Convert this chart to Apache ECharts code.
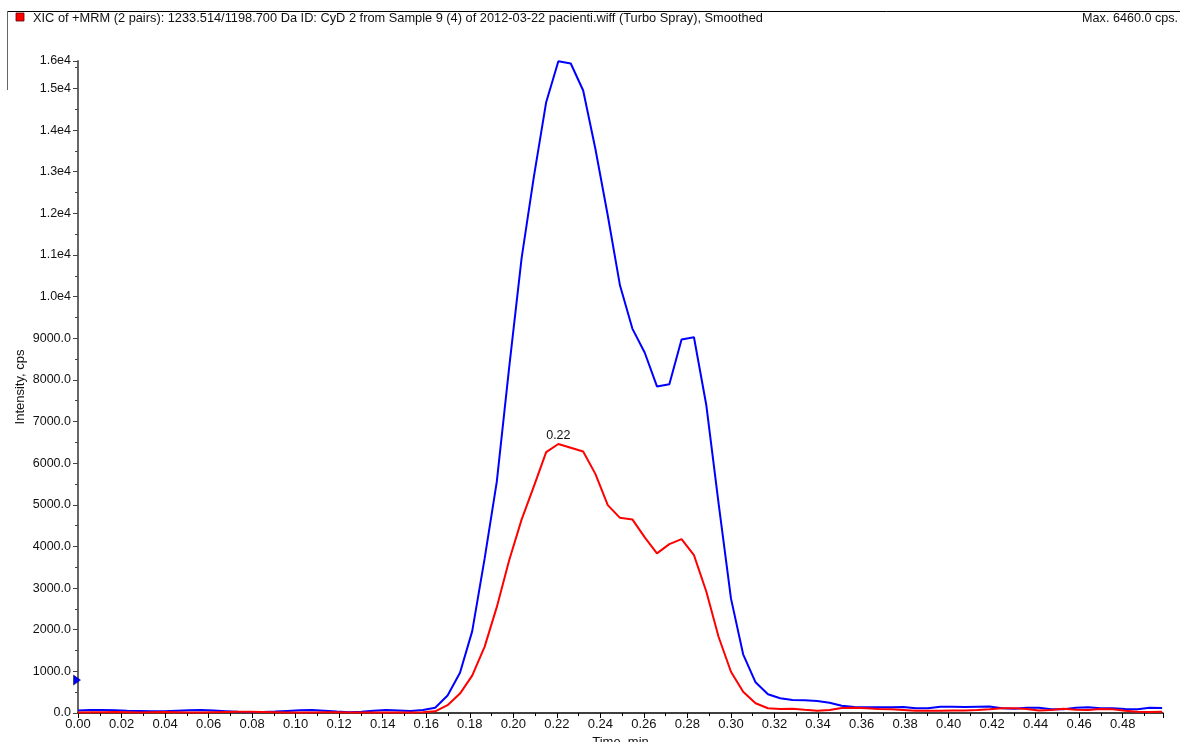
<!DOCTYPE html>
<html>
<head>
<meta charset="utf-8">
<script src="https://cdn.jsdelivr.net/npm/echarts@6/dist/echarts.min.js"></script>
<style>
html,body{margin:0;padding:0;background:#fff;}
#chart{width:1180px;height:742px;}
</style>
</head>
<body>
<div id="chart"></div>
<script>
// ---- data ----
const titleText = "XIC of +MRM (2 pairs): 1233.514/1198.700 Da ID: CyD 2 from Sample 9 (4) of 2012-03-22 pacienti.wiff (Turbo Spray), Smoothed";
const xAxisName = "Time, min";
const yAxisName = "Intensity, cps";

const times = [
  0.0000,0.0057,0.0113,0.0170,0.0226,0.0283,0.0340,0.0396,0.0453,0.0509,
  0.0566,0.0623,0.0679,0.0736,0.0792,0.0849,0.0906,0.0962,0.1019,0.1075,
  0.1132,0.1189,0.1245,0.1302,0.1358,0.1415,0.1472,0.1528,0.1585,0.1641,
  0.1698,0.1755,0.1811,0.1868,0.1924,0.1981,0.2038,0.2094,0.2151,0.2207,
  0.2264,0.2321,0.2377,0.2434,0.2490,0.2547,0.2604,0.2660,0.2717,0.2773,
  0.2830,0.2887,0.2943,0.3000,0.3056,0.3113,0.3170,0.3226,0.3283,0.3339,
  0.3396,0.3453,0.3509,0.3566,0.3622,0.3679,0.3736,0.3792,0.3849,0.3905,
  0.3962,0.4019,0.4075,0.4132,0.4188,0.4245,0.4302,0.4358,0.4415,0.4471,
  0.4528,0.4585,0.4641,0.4698,0.4754,0.4811,0.4868,0.4924,0.4981
];

const blueValues = [
  60,70,75,65,55,50,45,45,55,65,
  70,60,45,30,25,25,35,50,65,70,
  55,35,20,30,55,70,60,50,70,127,
  422,967,1961,3700,5551,8300,10920,12864,14671,15655,
  15600,14952,13553,11950,10272,9233,8652,7843,7896,8969,
  9024,7385,5040,2753,1409,737,449,353,312,305,
  288,248,176,144,137,137,137,144,113,113,
  152,152,144,150,155,113,100,127,127,90,
  89,127,137,113,113,96,90,127,120
];

const redValues = [
  15,20,20,25,20,15,20,25,20,15,
  15,20,25,30,30,25,20,15,10,15,
  20,20,15,10,10,15,10,10,20,41,
  187,466,898,1589,2542,3667,4644,5436,6264,6460,
  6372,6281,5743,4992,4687,4649,4217,3833,4056,4176,
  3792,2911,1831,991,511,233,113,96,103,79,
  55,72,120,127,113,96,89,72,55,55,
  55,62,62,72,89,113,113,96,62,72,
  103,79,72,96,89,55,31,24,31
];

const yMarkerValue = 790;
const xMax = 0.4985;
const yMax = 15660;

// ---- chart ----
const chart = echarts.init(document.getElementById('chart'), null, {renderer: 'canvas'});
const font = '"Liberation Sans", Arial, sans-serif';

const blueData = times.map((t, i) => [t, blueValues[i]]);
const redData = times.map((t, i) => [t, redValues[i]]);
let maxIdx = 0;
redValues.forEach((v, i) => { if (v > redValues[maxIdx]) maxIdx = i; });
const redMax = redValues[maxIdx];

function yFmt(v) {
  if (v >= 10000) return (v / 10000).toFixed(1) + 'e4';
  return v.toFixed(1);
}

const option = {
  animation: false,
  backgroundColor: '#ffffff',
  textStyle: {fontFamily: font},
  grid: {left: 78, right: 17, top: 61, bottom: 29, containLabel: false, outerBoundsMode: 'none'},
  graphic: [
    {type: 'line', shape: {x1: 7, y1: 11.5, x2: 1180, y2: 11.5}, style: {stroke: '#000', lineWidth: 1}},
    {type: 'line', shape: {x1: 7.5, y1: 11, x2: 7.5, y2: 90}, style: {stroke: '#666', lineWidth: 1}},
    {type: 'rect', shape: {x: 16, y: 13, width: 8, height: 8}, style: {fill: '#ff0000', stroke: '#600000', lineWidth: 0.8}},
    {type: 'text', x: 33, y: 18.5, style: {text: titleText, fill: '#111', font: '12.8px ' + font, verticalAlign: 'middle'}},
    {type: 'text', right: 2, top: 12, style: {text: 'Max. ' + redMax.toFixed(1) + ' cps.', fill: '#111', font: '12.6px ' + font}}
  ],
  xAxis: {
    type: 'value',
    min: 0,
    max: xMax,
    interval: 0.02,
    name: xAxisName,
    nameLocation: 'middle',
    nameGap: 23,
    nameMoveOverlap: false,
    nameTextStyle: {color: '#111', fontSize: 13, fontFamily: font},
    axisLine: {show: true, onZero: false, lineStyle: {color: '#000', width: 1.5}},
    axisTick: {show: true, length: 5, lineStyle: {color: '#000', width: 1}},
    minorTick: {show: true, splitNumber: 2, length: 3, lineStyle: {color: '#000', width: 1}},
    splitLine: {show: false},
    axisLabel: {
      color: '#111', fontSize: 13, fontFamily: font, margin: 5,
      showMaxLabel: false,
      formatter: v => v.toFixed(2)
    }
  },
  yAxis: {
    type: 'value',
    min: 0,
    max: yMax,
    interval: 1000,
    name: yAxisName,
    nameLocation: 'middle',
    nameGap: 51,
    nameMoveOverlap: false,
    nameRotate: 90,
    nameTextStyle: {color: '#111', fontSize: 13, fontFamily: font},
    axisLine: {show: true, lineStyle: {color: '#666', width: 2}},
    axisTick: {show: true, length: 5, lineStyle: {color: '#444', width: 1}},
    minorTick: {show: true, splitNumber: 2, length: 3, lineStyle: {color: '#444', width: 1}},
    splitLine: {show: false},
    axisLabel: {color: '#111', fontSize: 12.5, fontFamily: font, margin: 7, formatter: yFmt}
  },
  series: [
    {
      name: 'blue', type: 'line', data: blueData, showSymbol: false, symbol: 'none',
      lineStyle: {color: '#0000ff', width: 2}, z: 2,
      markPoint: {
        symbol: 'triangle', symbolSize: [10, 7], symbolRotate: -90, symbolOffset: [-1, 0],
        itemStyle: {color: '#0000ff', borderColor: '#000033', borderWidth: 0.5},
        label: {show: false},
        data: [{coord: [0, yMarkerValue]}]
      }
    },
    {
      name: 'red', type: 'line', data: redData, showSymbol: false, symbol: 'none',
      lineStyle: {color: '#ff0000', width: 2}, z: 3,
      markPoint: {
        symbol: 'circle', symbolSize: 0,
        label: {show: true, position: 'top', distance: 2, color: '#111', fontSize: 12.5, fontFamily: font,
          formatter: () => times[maxIdx].toFixed(2)},
        data: [{coord: [times[maxIdx], redMax]}]
      }
    }
  ]
};
chart.setOption(option);
</script>
</body>
</html>
